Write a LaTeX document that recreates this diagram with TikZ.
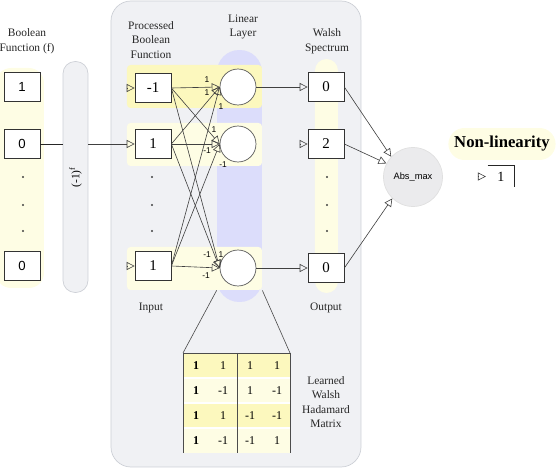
\documentclass[tikz,border=0pt]{standalone}
\usepackage{fontspec}
\setmainfont{Liberation Serif}
\newfontfamily\boxfont{Liberation Sans}
\usetikzlibrary{arrows.meta, positioning}
\definecolor{panelgray}{HTML}{F0F1F4}
\definecolor{panelline}{HTML}{CDD0D6}
\definecolor{rowyellow}{HTML}{FCF8BE}
\definecolor{paleyellow}{HTML}{FEFDE4}
\definecolor{lavender}{HTML}{DCDDFB}
\definecolor{absgray}{HTML}{EBEBED}
\tikzset{
    valbox/.style={rectangle, draw=black!80, fill=white, minimum width=0.72cm, minimum height=0.58cm, inner sep=0pt, font=\fontsize{8.5}{9}\selectfont},
    inbox/.style={valbox, font=\boxfont\fontsize{7.5}{8}\selectfont},
    sumnode/.style={circle, draw=black!65, fill=white, minimum size=0.72cm, inner sep=0pt, line width=0.4pt},
    wire/.style={draw=black!75, line width=0.35pt, -{Triangle[open, length=4.5pt, width=4.5pt]}},
    port/.style={draw=black!75, line width=0.35pt, -{Triangle[open, length=4.5pt, width=4.5pt]}},
    plainline/.style={draw=black!85, line width=0.45pt},
    weight/.style={font=\boxfont\fontsize{4.8}{5}\selectfont, inner sep=0pt},
    caption/.style={align=center, font=\fontsize{6.5}{8.3}\selectfont, text=black!85},
    dotmark/.style={circle, fill=black!75, inner sep=0pt, minimum size=1.2pt},
    cell/.style={font=\fontsize{6.8}{7}\selectfont, inner sep=0pt},
    flipbar/.style={rectangle, rounded corners=0.24cm, fill=panelgray, draw=panelline, minimum width=4.62cm, minimum height=0.5cm, inner sep=0pt, font=\fontsize{6.5}{7}\selectfont},
    layerbar/.style={rectangle, rounded corners=0.44cm, fill=lavender, minimum width=0.9cm, minimum height=5.04cm, inner sep=0pt},
    nlpill/.style={rectangle, rounded corners=0.32cm, fill=paleyellow, minimum width=2.14cm, minimum height=0.64cm, font=\bfseries\fontsize{9.5}{10}\selectfont},
    absnode/.style={circle, fill=absgray, draw=black!12, minimum size=1.18cm, inner sep=0pt, font=\boxfont\fontsize{5.3}{6}\selectfont}
}
\begin{document}
\begin{tikzpicture}[x=0.02cm, y=-0.02cm]
\useasboundingbox (0,0) rectangle (556,470);

% Backgrounds
\fill[paleyellow, rounded corners=0.3cm] (-4,68) rectangle (44,288);
\filldraw[fill=panelgray, draw=panelline, rounded corners=0.4cm] (111,1) rectangle (361,467);
\node (layer) [layerbar] at (239.5,176) {};
\fill[rowyellow, rounded corners=2pt] (127,65) rectangle (262,108);
\fill[paleyellow, rounded corners=2pt] (127,123) rectangle (262,166);
\fill[paleyellow, rounded corners=2pt] (127,247) rectangle (262,290);
\fill[paleyellow, rounded corners=0.23cm] (315,59) rectangle (338,293);

% Captions
\node (bfcap) [caption] at (27,41) {Boolean\\Function (f)};
\node (pbcap) [caption] at (151,40) {Processed\\Boolean\\Function};
\node (llcap) [caption] at (243,27) {Linear\\Layer};
\node (wscap) [caption] at (327,41) {Walsh\\Spectrum};
\node (incap) [caption] at (151,308) {Input};
\node (outcap) [caption] at (326,308) {Output};
\node (whcap) [caption] at (326,402) {Learned\\Walsh\\Hadamard\\Matrix};

% Nodes
\node (l1) [inbox] at (22,87) {1};
\node (l2) [inbox] at (22,144) {0};
\node (l3) [inbox] at (22,266) {0};
\node (flip) [flipbar, rotate=90] at (75.5,177) {(-1)\textsuperscript{f}};

\node (p1) [valbox] at (153,88) {-1};
\node (p2) [valbox] at (153,144) {1};
\node (p3) [valbox] at (153,266) {1};

\node (c1) [sumnode] at (238,87) {};
\node (c2) [sumnode] at (238,144) {};
\node (c3) [sumnode] at (238,268) {};

\node (w1) [valbox] at (326,87) {0};
\node (w2) [valbox] at (326,144) {2};
\node (w3) [valbox] at (326,268) {0};

\node (ab) [absnode] at (413,177) {Abs\_max};
\node (nl) [nlpill] at (502,144) {Non-linearity};
\node (disp) [minimum width=0.52cm, minimum height=0.42cm, inner sep=0pt, font=\fontsize{8}{9}\selectfont] at (501,176.5) {1};

\foreach \y in {177,205,231} {
    \node (ld\y) [dotmark] at (23,\y) {};
    \node (pd\y) [dotmark] at (152,\y) {};
    \node (wd\y) [dotmark] at (327,\y) {};
}

% Connectors
\draw [plainline] (l2.east) -- (l2.east -| flip.north);
\draw [wire] (flip.south |- p2.west) -- (p2.west);
\draw [port] ([xshift=-4.5pt]p1.west) -- (p1.west);
\draw [port] ([xshift=-4.5pt]p3.west) -- (p3.west);
\draw [port] ([xshift=-4.5pt]w2.west) -- (w2.west);

\draw [wire] (p1.east) -- (c1.west);
\draw [wire] (p1.east) -- (c2.west);
\draw [wire] (p1.east) -- (c3.west);
\draw [wire] (p2.east) -- (c1.west);
\draw [wire] (p2.east) -- (c2.west);
\draw [wire] (p2.east) -- (c3.west);
\draw [wire] (p3.east) -- (c1.west);
\draw [wire] (p3.east) -- (c2.west);
\draw [wire] (p3.east) -- (c3.west);

\node (k11) [weight] at (207,80) {1};
\node (k12) [weight] at (207,93) {1};
\node (k13) [weight] at (221,107) {1};
\node (k21) [weight] at (214,130) {1};
\node (k22) [weight] at (207,151) {-1};
\node (k23) [weight] at (223,165) {-1};
\node (k31) [weight] at (207,255) {-1};
\node (k32) [weight] at (221,255) {1};
\node (k33) [weight] at (206,276) {-1};

\draw [wire] (c1.east) -- (w1.west);
\draw [wire] (c3.east) -- (w3.west);
\draw [wire] (w1.east) -- (ab.137);
\draw [wire] (w2.east) -- (ab.153);
\draw [wire] (w3.east) -- (ab.226);

\draw [port] ([xshift=-5.5pt]disp.west) -- ([xshift=-1pt]disp.west);
\draw [plainline] (disp.north west) -| (disp.south east);

% Hadamard matrix
\foreach \r/\c in {1/rowyellow, 2/paleyellow, 3/rowyellow, 4/paleyellow}
    \fill[\c] (183,{328+25*\r}) rectangle (290,{353+25*\r});
\foreach \r in {2,3,4}
    \draw[white, line width=0.6pt] (183,{328+25*\r}) -- (290,{328+25*\r});
\coordinate (whmnw) at (183,353);
\coordinate (whmne) at (290,353);
\draw [plainline, black!70] (183,453) -- (whmnw) -- (whmne) -- (290,453);
\draw [plainline, black!70] (237,353) -- (237,453);
\foreach \r/\a/\b/\c/\d in {1/1/1/1/1, 2/1/-1/1/-1, 3/1/1/-1/-1, 4/1/-1/-1/1} {
    \node (h\r a) [cell, font=\bfseries\fontsize{6.8}{7}\selectfont] at (196,{340.5+25*\r}) {\a};
    \node (h\r b) [cell] at (223,{340.5+25*\r}) {\b};
    \node (h\r c) [cell] at (250,{340.5+25*\r}) {\c};
    \node (h\r d) [cell] at (277,{340.5+25*\r}) {\d};
}
\draw [plainline, black!70, line width=0.35pt] ([yshift=6.8pt]layer.south west) -- (whmnw);
\draw [plainline, black!70, line width=0.35pt] ([yshift=6.8pt]layer.south east) -- (whmne);

\end{tikzpicture}
\end{document}
